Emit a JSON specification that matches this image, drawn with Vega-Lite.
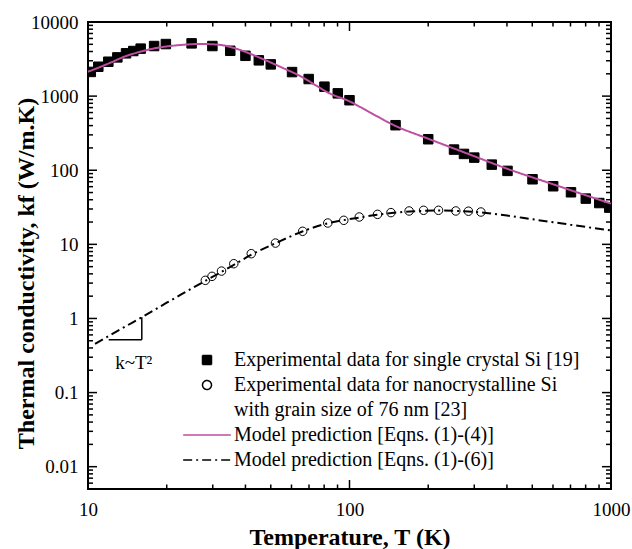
{
  "$schema": "https://vega.github.io/schema/vega-lite/v6.json",
  "width": 523,
  "height": 467,
  "autosize": {"type": "none"},
  "padding": {"left": 88, "top": 22, "right": 21, "bottom": 60},
  "background": "white",
  "datasets": {
    "xticks": [
      {"v": 10}, {"v": 20}, {"v": 30}, {"v": 40}, {"v": 50}, {"v": 60}, {"v": 70}, {"v": 80}, {"v": 90},
      {"v": 100}, {"v": 200}, {"v": 300}, {"v": 400}, {"v": 500}, {"v": 600}, {"v": 700}, {"v": 800}, {"v": 900},
      {"v": 1000}
    ],
    "yticks": [
      {"v": 0.005}, {"v": 0.006}, {"v": 0.007}, {"v": 0.008}, {"v": 0.009},
      {"v": 0.01}, {"v": 0.02}, {"v": 0.03}, {"v": 0.04}, {"v": 0.05}, {"v": 0.06}, {"v": 0.07}, {"v": 0.08}, {"v": 0.09},
      {"v": 0.1}, {"v": 0.2}, {"v": 0.3}, {"v": 0.4}, {"v": 0.5}, {"v": 0.6}, {"v": 0.7}, {"v": 0.8}, {"v": 0.9},
      {"v": 1}, {"v": 2}, {"v": 3}, {"v": 4}, {"v": 5}, {"v": 6}, {"v": 7}, {"v": 8}, {"v": 9},
      {"v": 10}, {"v": 20}, {"v": 30}, {"v": 40}, {"v": 50}, {"v": 60}, {"v": 70}, {"v": 80}, {"v": 90},
      {"v": 100}, {"v": 200}, {"v": 300}, {"v": 400}, {"v": 500}, {"v": 600}, {"v": 700}, {"v": 800}, {"v": 900},
      {"v": 1000}, {"v": 2000}, {"v": 3000}, {"v": 4000}, {"v": 5000}, {"v": 6000}, {"v": 7000}, {"v": 8000}, {"v": 9000},
      {"v": 10000}
    ],
    "series": [
      {"series": "sc", "T": 10.25, "k": 2120},
      {"series": "sc", "T": 10.95, "k": 2490},
      {"series": "sc", "T": 11.96, "k": 2910},
      {"series": "sc", "T": 12.95, "k": 3330},
      {"series": "sc", "T": 13.98, "k": 3780},
      {"series": "sc", "T": 14.9, "k": 4060},
      {"series": "sc", "T": 15.9, "k": 4370},
      {"series": "sc", "T": 17.9, "k": 4740},
      {"series": "sc", "T": 19.85, "k": 5040},
      {"series": "sc", "T": 24.9, "k": 5150},
      {"series": "sc", "T": 29.9, "k": 4740},
      {"series": "sc", "T": 35, "k": 4090},
      {"series": "sc", "T": 40, "k": 3500},
      {"series": "sc", "T": 45, "k": 3040},
      {"series": "sc", "T": 50, "k": 2680},
      {"series": "sc", "T": 60.3, "k": 2110},
      {"series": "sc", "T": 69.8, "k": 1700},
      {"series": "sc", "T": 80.2, "k": 1340},
      {"series": "sc", "T": 90.2, "k": 1090},
      {"series": "sc", "T": 100, "k": 880},
      {"series": "sc", "T": 150, "k": 405},
      {"series": "sc", "T": 200, "k": 262},
      {"series": "sc", "T": 251, "k": 190},
      {"series": "sc", "T": 274, "k": 166},
      {"series": "sc", "T": 300, "k": 148},
      {"series": "sc", "T": 350, "k": 119},
      {"series": "sc", "T": 402, "k": 98},
      {"series": "sc", "T": 501, "k": 75.5},
      {"series": "sc", "T": 601, "k": 60.8},
      {"series": "sc", "T": 703, "k": 50.4},
      {"series": "sc", "T": 801, "k": 41.4},
      {"series": "sc", "T": 902, "k": 36.1},
      {"series": "sc", "T": 985, "k": 31.3},
      {"series": "nc", "T": 28.1, "k": 3.27},
      {"series": "nc", "T": 29.8, "k": 3.7},
      {"series": "nc", "T": 32.4, "k": 4.36},
      {"series": "nc", "T": 36.1, "k": 5.48},
      {"series": "nc", "T": 42.1, "k": 7.48},
      {"series": "nc", "T": 52.1, "k": 10.4},
      {"series": "nc", "T": 66.2, "k": 15.0},
      {"series": "nc", "T": 82.6, "k": 19.4},
      {"series": "nc", "T": 95.1, "k": 21.1},
      {"series": "nc", "T": 109, "k": 23.4},
      {"series": "nc", "T": 128, "k": 25.4},
      {"series": "nc", "T": 144, "k": 26.8},
      {"series": "nc", "T": 169, "k": 28.2},
      {"series": "nc", "T": 192, "k": 28.8},
      {"series": "nc", "T": 219, "k": 28.8},
      {"series": "nc", "T": 255, "k": 28.2},
      {"series": "nc", "T": 285, "k": 28.0},
      {"series": "nc", "T": 318, "k": 27.3},
      {"series": "m4", "T": 10, "k": 2130},
      {"series": "m4", "T": 12, "k": 2760},
      {"series": "m4", "T": 14, "k": 3480},
      {"series": "m4", "T": 16, "k": 4000},
      {"series": "m4", "T": 18, "k": 4420},
      {"series": "m4", "T": 20, "k": 4680},
      {"series": "m4", "T": 23, "k": 4920},
      {"series": "m4", "T": 27, "k": 5060},
      {"series": "m4", "T": 30, "k": 5000},
      {"series": "m4", "T": 33, "k": 4830},
      {"series": "m4", "T": 36, "k": 4480},
      {"series": "m4", "T": 39, "k": 4080},
      {"series": "m4", "T": 46, "k": 3230},
      {"series": "m4", "T": 55, "k": 2440},
      {"series": "m4", "T": 65.6, "k": 1820},
      {"series": "m4", "T": 75, "k": 1370},
      {"series": "m4", "T": 83, "k": 1110},
      {"series": "m4", "T": 100, "k": 850},
      {"series": "m4", "T": 120, "k": 600},
      {"series": "m4", "T": 148, "k": 405},
      {"series": "m4", "T": 200, "k": 266},
      {"series": "m4", "T": 282, "k": 168},
      {"series": "m4", "T": 400, "k": 105},
      {"series": "m4", "T": 590, "k": 66},
      {"series": "m4", "T": 800, "k": 46},
      {"series": "m4", "T": 1000, "k": 35.5},
      {"series": "m6", "T": 10.64, "k": 0.455},
      {"series": "m6", "T": 12, "k": 0.58},
      {"series": "m6", "T": 14, "k": 0.79},
      {"series": "m6", "T": 16, "k": 1.03},
      {"series": "m6", "T": 20, "k": 1.63},
      {"series": "m6", "T": 24, "k": 2.35},
      {"series": "m6", "T": 28, "k": 3.2},
      {"series": "m6", "T": 32, "k": 4.15},
      {"series": "m6", "T": 36, "k": 5.25},
      {"series": "m6", "T": 42, "k": 7.2},
      {"series": "m6", "T": 52, "k": 10.3},
      {"series": "m6", "T": 66, "k": 14.9},
      {"series": "m6", "T": 83, "k": 19.3},
      {"series": "m6", "T": 95, "k": 21.2},
      {"series": "m6", "T": 110, "k": 23.1},
      {"series": "m6", "T": 128, "k": 25.1},
      {"series": "m6", "T": 145, "k": 26.5},
      {"series": "m6", "T": 170, "k": 27.8},
      {"series": "m6", "T": 195, "k": 28.4},
      {"series": "m6", "T": 220, "k": 28.6},
      {"series": "m6", "T": 255, "k": 28.3},
      {"series": "m6", "T": 285, "k": 27.8},
      {"series": "m6", "T": 320, "k": 26.9},
      {"series": "m6", "T": 350, "k": 26.0},
      {"series": "m6", "T": 400, "k": 24.5},
      {"series": "m6", "T": 500, "k": 21.8},
      {"series": "m6", "T": 600, "k": 19.9},
      {"series": "m6", "T": 700, "k": 18.4},
      {"series": "m6", "T": 800, "k": 17.2},
      {"series": "m6", "T": 1000, "k": 15.4}
    ]
  },
  "data": {"name": "series"},
  "layer": [
    {
      "data": {"name": "xticks"},
      "mark": {"type": "tick", "orient": "vertical", "clip": true, "thickness": 1.5, "color": "black", "opacity": 1},
      "encoding": {
        "x": {"field": "v", "type": "quantitative", "scale": {"type": "log", "domain": [10, 1000], "nice": false},
          "axis": {"orient": "bottom", "values": [10, 100, 1000], "format": "~g", "ticks": false, "domain": false, "offset": 0, "labelPadding": 11, "labelFlush": false, "labelOverlap": false, "title": "Temperature, T (K)", "titleX": 261.5, "titleY": 55, "titleAlign": "center", "titleBaseline": "alphabetic"}},
        "y": {"datum": 0.005, "type": "quantitative", "scale": {"type": "log", "domain": [0.005, 10000], "nice": false},
          "axis": {"orient": "left", "values": [0.01, 0.1, 1, 10, 100, 1000, 10000], "format": "~g", "ticks": false, "domain": false, "offset": 0, "labelPadding": 10, "labelFlush": false, "labelOverlap": false, "title": "Thermal conductivity, kf (W/m.K)", "titleX": -55, "titleY": 251, "titleAlign": "center", "titleBaseline": "alphabetic"}},
        "size": {"condition": {"test": "abs(log(datum.v)/LN10 - round(log(datum.v)/LN10)) < 0.001", "value": 18}, "value": 9}
      }
    },
    {
      "data": {"name": "xticks"},
      "mark": {"type": "tick", "orient": "vertical", "clip": true, "thickness": 1.5, "color": "black", "opacity": 1},
      "encoding": {
        "x": {"field": "v", "type": "quantitative", "scale": {"type": "log", "domain": [10, 1000], "nice": false},
          "axis": {"orient": "bottom", "values": [10, 100, 1000], "format": "~g", "ticks": false, "domain": false, "offset": 0, "labelPadding": 11, "labelFlush": false, "labelOverlap": false, "title": "Temperature, T (K)", "titleX": 261.5, "titleY": 55, "titleAlign": "center", "titleBaseline": "alphabetic"}},
        "y": {"datum": 10000, "type": "quantitative", "scale": {"type": "log", "domain": [0.005, 10000], "nice": false},
          "axis": {"orient": "left", "values": [0.01, 0.1, 1, 10, 100, 1000, 10000], "format": "~g", "ticks": false, "domain": false, "offset": 0, "labelPadding": 10, "labelFlush": false, "labelOverlap": false, "title": "Thermal conductivity, kf (W/m.K)", "titleX": -55, "titleY": 251, "titleAlign": "center", "titleBaseline": "alphabetic"}},
        "size": {"condition": {"test": "abs(log(datum.v)/LN10 - round(log(datum.v)/LN10)) < 0.001", "value": 18}, "value": 9}
      }
    },
    {
      "data": {"name": "yticks"},
      "mark": {"type": "tick", "orient": "horizontal", "clip": true, "thickness": 1.5, "color": "black", "opacity": 1},
      "encoding": {
        "y": {"field": "v", "type": "quantitative", "scale": {"type": "log", "domain": [0.005, 10000], "nice": false},
          "axis": {"orient": "left", "values": [0.01, 0.1, 1, 10, 100, 1000, 10000], "format": "~g", "ticks": false, "domain": false, "offset": 0, "labelPadding": 10, "labelFlush": false, "labelOverlap": false, "title": "Thermal conductivity, kf (W/m.K)", "titleX": -55, "titleY": 251, "titleAlign": "center", "titleBaseline": "alphabetic"}},
        "x": {"datum": 10, "type": "quantitative", "scale": {"type": "log", "domain": [10, 1000], "nice": false},
          "axis": {"orient": "bottom", "values": [10, 100, 1000], "format": "~g", "ticks": false, "domain": false, "offset": 0, "labelPadding": 11, "labelFlush": false, "labelOverlap": false, "title": "Temperature, T (K)", "titleX": 261.5, "titleY": 55, "titleAlign": "center", "titleBaseline": "alphabetic"}},
        "size": {"condition": {"test": "abs(log(datum.v)/LN10 - round(log(datum.v)/LN10)) < 0.001", "value": 18}, "value": 10}
      }
    },
    {
      "data": {"name": "yticks"},
      "mark": {"type": "tick", "orient": "horizontal", "clip": true, "thickness": 1.5, "color": "black", "opacity": 1},
      "encoding": {
        "y": {"field": "v", "type": "quantitative", "scale": {"type": "log", "domain": [0.005, 10000], "nice": false},
          "axis": {"orient": "left", "values": [0.01, 0.1, 1, 10, 100, 1000, 10000], "format": "~g", "ticks": false, "domain": false, "offset": 0, "labelPadding": 10, "labelFlush": false, "labelOverlap": false, "title": "Thermal conductivity, kf (W/m.K)", "titleX": -55, "titleY": 251, "titleAlign": "center", "titleBaseline": "alphabetic"}},
        "x": {"datum": 1000, "type": "quantitative", "scale": {"type": "log", "domain": [10, 1000], "nice": false},
          "axis": {"orient": "bottom", "values": [10, 100, 1000], "format": "~g", "ticks": false, "domain": false, "offset": 0, "labelPadding": 11, "labelFlush": false, "labelOverlap": false, "title": "Temperature, T (K)", "titleX": 261.5, "titleY": 55, "titleAlign": "center", "titleBaseline": "alphabetic"}},
        "size": {"condition": {"test": "abs(log(datum.v)/LN10 - round(log(datum.v)/LN10)) < 0.001", "value": 18}, "value": 10}
      }
    },
    {
      "transform": [{"filter": "datum.series === 'sc' || datum.series === 'nc'"}],
      "mark": {"type": "point", "strokeWidth": 1, "opacity": 1, "clip": true},
      "encoding": {
        "x": {"field": "T", "type": "quantitative", "scale": {"type": "log", "domain": [10, 1000], "nice": false},
          "axis": {"orient": "bottom", "values": [10, 100, 1000], "format": "~g", "ticks": false, "domain": false, "offset": 0, "labelPadding": 11, "labelFlush": false, "labelOverlap": false, "title": "Temperature, T (K)", "titleX": 261.5, "titleY": 55, "titleAlign": "center", "titleBaseline": "alphabetic"}},
        "y": {"field": "k", "type": "quantitative", "scale": {"type": "log", "domain": [0.005, 10000], "nice": false},
          "axis": {"orient": "left", "values": [0.01, 0.1, 1, 10, 100, 1000, 10000], "format": "~g", "ticks": false, "domain": false, "offset": 0, "labelPadding": 10, "labelFlush": false, "labelOverlap": false, "title": "Thermal conductivity, kf (W/m.K)", "titleX": -55, "titleY": 251, "titleAlign": "center", "titleBaseline": "alphabetic"}},
        "shape": {
          "field": "series", "type": "nominal",
          "scale": {"domain": ["sc", "nc", "ncg", "m4", "m6"], "range": ["square", "circle", "circle", "M-5.3,0H5.3", "M-5.3,0H5.3"]},
          "legend": {
            "orient": "none",
            "legendX": 95,
            "legendY": 328,
            "direction": "vertical",
            "title": null,
            "padding": 0,
            "labelExpr": "datum.value === 'sc' ? 'Experimental data for single crystal Si [19]' : datum.value === 'nc' ? 'Experimental data for nanocrystalline Si' : datum.value === 'ncg' ? 'with grain size of 76 nm [23]' : datum.value === 'm4' ? 'Model prediction [Eqns. (1)-(4)]' : 'Model prediction [Eqns. (1)-(6)]'",
            "symbolSize": 81,
            "symbolStrokeWidth": 1.5,
            "symbolOffset": 14,
            "labelOffset": 17,
            "rowPadding": 5,
            "labelFont": "Liberation Serif",
            "labelFontSize": 20,
            "labelColor": "black",
            "labelLimit": 600,
            "encode": {
              "symbols": {
                "update": {
                  "fill": {"scale": "fill", "field": "value"},
                  "stroke": {"scale": "stroke", "field": "value"},
                  "strokeDash": {"scale": "strokeDash", "field": "value"},
                  "shape": {"scale": "shape", "field": "value"},
                  "opacity": {"value": 1},
                  "strokeWidth": [{"test": "datum.value === 'm4' || datum.value === 'm6'", "value": 2}, {"value": 1}]
                }
              }
            }
          }
        },
        "fill": {
          "field": "series", "type": "nominal",
          "scale": {"domain": ["sc", "nc", "ncg", "m4", "m6"], "range": ["black", "transparent", "transparent", "transparent", "transparent"]},
          "legend": null
        },
        "stroke": {
          "field": "series", "type": "nominal",
          "scale": {"domain": ["sc", "nc", "ncg", "m4", "m6"], "range": ["black", "black", "transparent", "#bf4ea1", "black"]},
          "legend": null
        },
        "size": {"condition": {"test": "datum.series === 'sc'", "value": 90}, "value": 72}
      }
    },
    {
      "transform": [{"filter": "datum.series === 'm4' || datum.series === 'm6'"}],
      "mark": {"type": "line", "strokeWidth": 2, "interpolate": "monotone"},
      "encoding": {
        "x": {"field": "T", "type": "quantitative", "scale": {"type": "log", "domain": [10, 1000], "nice": false},
          "axis": {"orient": "bottom", "values": [10, 100, 1000], "format": "~g", "ticks": false, "domain": false, "offset": 0, "labelPadding": 11, "labelFlush": false, "labelOverlap": false, "title": "Temperature, T (K)", "titleX": 261.5, "titleY": 55, "titleAlign": "center", "titleBaseline": "alphabetic"}},
        "y": {"field": "k", "type": "quantitative", "scale": {"type": "log", "domain": [0.005, 10000], "nice": false},
          "axis": {"orient": "left", "values": [0.01, 0.1, 1, 10, 100, 1000, 10000], "format": "~g", "ticks": false, "domain": false, "offset": 0, "labelPadding": 10, "labelFlush": false, "labelOverlap": false, "title": "Thermal conductivity, kf (W/m.K)", "titleX": -55, "titleY": 251, "titleAlign": "center", "titleBaseline": "alphabetic"}},
        "stroke": {
          "field": "series", "type": "nominal",
          "scale": {"domain": ["sc", "nc", "ncg", "m4", "m6"], "range": ["black", "black", "transparent", "#bf4ea1", "black"]},
          "legend": null
        },
        "strokeDash": {
          "field": "series", "type": "nominal",
          "scale": {"domain": ["sc", "nc", "ncg", "m4", "m6"], "range": [[1, 0], [1, 0], [1, 0], [1, 0], [9, 4, 2, 4]]},
          "legend": null
        }
      }
    },
    {
      "data": {"values": [
        {"T1": 12.0, "T2": 16.06, "k1": 0.515, "k2": 0.515},
        {"T1": 16.06, "T2": 16.06, "k1": 0.515, "k2": 1.04}
      ]},
      "mark": {"type": "rule", "stroke": "black", "strokeWidth": 1.5},
      "encoding": {
        "x": {"field": "T1", "type": "quantitative", "scale": {"type": "log", "domain": [10, 1000], "nice": false},
          "axis": {"orient": "bottom", "values": [10, 100, 1000], "format": "~g", "ticks": false, "domain": false, "offset": 0, "labelPadding": 11, "labelFlush": false, "labelOverlap": false, "title": "Temperature, T (K)", "titleX": 261.5, "titleY": 55, "titleAlign": "center", "titleBaseline": "alphabetic"}},
        "x2": {"field": "T2"},
        "y": {"field": "k1", "type": "quantitative", "scale": {"type": "log", "domain": [0.005, 10000], "nice": false},
          "axis": {"orient": "left", "values": [0.01, 0.1, 1, 10, 100, 1000, 10000], "format": "~g", "ticks": false, "domain": false, "offset": 0, "labelPadding": 10, "labelFlush": false, "labelOverlap": false, "title": "Thermal conductivity, kf (W/m.K)", "titleX": -55, "titleY": 251, "titleAlign": "center", "titleBaseline": "alphabetic"}},
        "y2": {"field": "k2"}
      }
    },
    {
      "data": {"values": [{"T": 12.7, "k": 0.21, "label": "k~T²"}]},
      "mark": {"type": "text", "align": "left", "baseline": "alphabetic", "font": "Liberation Serif", "fontSize": 19, "color": "black"},
      "encoding": {
        "x": {"field": "T", "type": "quantitative", "scale": {"type": "log", "domain": [10, 1000], "nice": false},
          "axis": {"orient": "bottom", "values": [10, 100, 1000], "format": "~g", "ticks": false, "domain": false, "offset": 0, "labelPadding": 11, "labelFlush": false, "labelOverlap": false, "title": "Temperature, T (K)", "titleX": 261.5, "titleY": 55, "titleAlign": "center", "titleBaseline": "alphabetic"}},
        "y": {"field": "k", "type": "quantitative", "scale": {"type": "log", "domain": [0.005, 10000], "nice": false},
          "axis": {"orient": "left", "values": [0.01, 0.1, 1, 10, 100, 1000, 10000], "format": "~g", "ticks": false, "domain": false, "offset": 0, "labelPadding": 10, "labelFlush": false, "labelOverlap": false, "title": "Thermal conductivity, kf (W/m.K)", "titleX": -55, "titleY": 251, "titleAlign": "center", "titleBaseline": "alphabetic"}},
        "text": {"field": "label"}
      }
    }
  ],
  "config": {
    "font": "Liberation Serif",
    "view": {"stroke": "black", "strokeWidth": 2},
    "axis": {
      "grid": false,
      "domain": false,
      "labelFont": "Liberation Serif",
      "labelFontSize": 19,
      "labelColor": "black",
      "titleFont": "Liberation Serif",
      "titleFontSize": 24,
      "titleFontWeight": "bold",
      "titleColor": "black"
    }
  }
}
